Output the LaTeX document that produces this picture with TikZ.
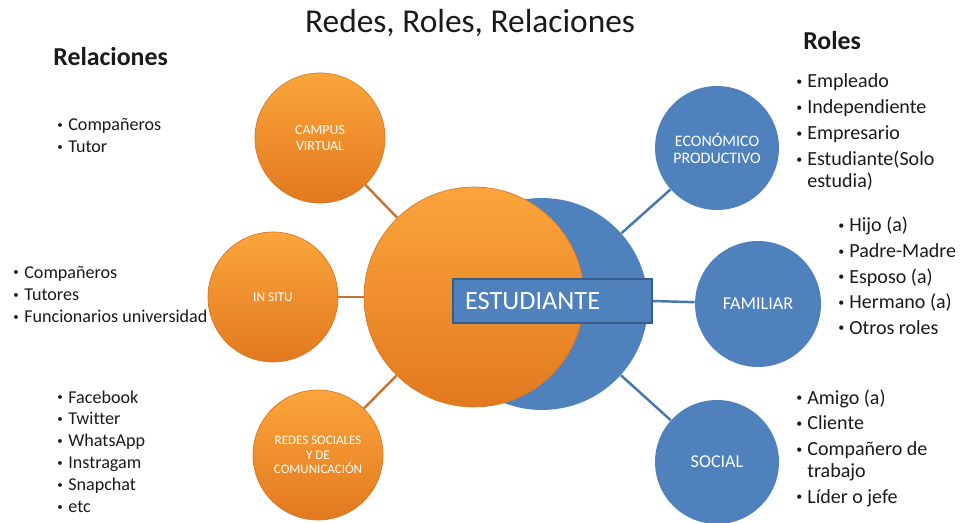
\documentclass[tikz,border=0pt]{standalone}
\usepackage{fontspec}
\setmainfont{Carlito}[Ligatures=NoCommon]
\usetikzlibrary{positioning}
\definecolor{naranjaclaro}{HTML}{FBA53B}
\definecolor{naranjaoscuro}{HTML}{E2791F}
\definecolor{naranjaborde}{HTML}{D9782A}
\definecolor{naranjalinea}{HTML}{C87533}
\definecolor{azul}{HTML}{4F81BD}
\definecolor{azulborde}{HTML}{385D8A}
\definecolor{azullinea}{HTML}{4677B0}
\definecolor{texto}{HTML}{1A1A1A}
\newcommand{\punto}{\makebox[0.22cm][l]{\raisebox{0.12em}{\scalebox{0.6}{\textbullet}}}}
\newcommand{\sangria}{\hspace*{0.22cm}}

\begin{document}
\begin{tikzpicture}[
		x=0.02cm, y=-0.02cm, % 1 unidad = 1 pixel de la imagen
		% --- Estilos ---
		circ_naranja/.style={
			circle,
			top color=naranjaclaro,
			bottom color=naranjaoscuro,
			draw=naranjaborde,
			text=white,
			align=center,
			inner sep=0pt
		},
		circ_azul/.style={
			circle,
			fill=azul,
			text=white,
			align=center,
			inner sep=0pt
		},
		linea_naranja/.style={draw=naranjalinea, line width=1.4pt},
		linea_azul/.style={draw=azullinea, line width=1.4pt},
		lista/.style={
			anchor=base west,
			inner sep=0pt,
			text=texto
		},
		titulo/.style={
			anchor=base west,
			inner sep=0pt,
			text=texto,
			font=\fontsize{14.7}{17}\selectfont\bfseries
		}
		]
		\useasboundingbox (0,0) rectangle (966,523);
		
		% 1. Titulo y encabezados
		\node[anchor=base, inner sep=0pt, text=texto, font=\fontsize{19}{22}\selectfont] (titulo) at (470,33) {Redes, Roles, Relaciones};
		\node[titulo] (relaciones) at (53,66) {Relaciones};
		\node[titulo] (roles) at (803,50) {Roles};
		
		% 2. Circulo central: azul detras, naranja delante
		\node[circ_azul, minimum size=4.24cm] (fondo_azul) at (542,304) {};
		\node[circ_naranja, minimum size=4.4cm] (nucleo) at (474,297) {};
		\node[draw=azulborde, line width=0.85pt, fill=azul, text=white,
			minimum height=0.88cm, text width=3.5cm, inner xsep=0.24cm,
			align=left, font=\fontsize{15}{17}\selectfont] (estudiante) at (552.5,301) {ESTUDIANTE};
		
		% 3. Circulos de relaciones (izquierda)
		\node[circ_naranja, minimum size=2.6cm, font=\fontsize{7.9}{8.6}\selectfont] (campus) at (320,138) {CAMPUS\\VIRTUAL};
		\node[circ_naranja, minimum size=2.6cm, font=\fontsize{7.6}{8.6}\selectfont] (insitu) at (273,297) {IN SITU};
		\node[circ_naranja, minimum size=2.6cm, font=\fontsize{7.4}{8.2}\selectfont] (redes) at (318,455) {REDES SOCIALES\\Y DE\\COMUNICACIÓN};
		
		% 4. Circulos de roles (derecha)
		\node[circ_azul, minimum size=2.48cm, font=\fontsize{9.1}{9.7}\selectfont] (economico) at (717,148) {ECONÓMICO\\PRODUCTIVO};
		\node[circ_azul, minimum size=2.52cm, font=\fontsize{10.3}{12}\selectfont] (familiar) at (758,304) {FAMILIAR};
		\node[circ_azul, minimum size=2.48cm, font=\fontsize{10.3}{12}\selectfont] (social) at (717,462) {SOCIAL};
		
		% 5. Conectores
		\draw[linea_naranja] (campus) -- (nucleo);
		\draw[linea_naranja] (insitu) -- (nucleo);
		\draw[linea_naranja] (redes) -- (nucleo);
		\draw[linea_azul] (economico) -- (fondo_azul);
		\draw[linea_azul] (estudiante.east) -- (familiar);
		\draw[linea_azul] (social) -- (fondo_azul);
		
		% 6. Listas de relaciones
		\node[lista, font=\fontsize{10.3}{12.5}\selectfont] (lista_campus) at (57,131) {%
			\begin{tabular}[t]{@{}l@{}}
				\punto Compañeros\\
				\punto Tutor
		\end{tabular}};
		\node[lista, font=\fontsize{10.3}{12.75}\selectfont] (lista_insitu) at (13,278) {%
			\begin{tabular}[t]{@{}l@{}}
				\punto Compañeros\\
				\punto Tutores\\
				\punto Funcionarios universidad
		\end{tabular}};
		\node[lista, font=\fontsize{10.3}{12.5}\selectfont] (lista_redes) at (57,403) {%
			\begin{tabular}[t]{@{}l@{}}
				\punto Facebook\\
				\punto Twitter\\
				\punto WhatsApp\\
				\punto Instragam\\
				\punto Snapchat\\
				\punto etc
		\end{tabular}};
		
		% 7. Listas de roles
		\node[lista, font=\fontsize{11.4}{12.25}\selectfont] (lista_economico) at (796,88) {%
			\begin{tabular}[t]{@{}l@{}}
				\punto Empleado\\[2.5pt]
				\punto Independiente\\[2.5pt]
				\punto Empresario\\[2.5pt]
				\punto Estudiante(Solo\\
				\sangria estudia)
		\end{tabular}};
		\node[lista, font=\fontsize{11.4}{12.25}\selectfont] (lista_familiar) at (838,232) {%
			\begin{tabular}[t]{@{}l@{}}
				\punto Hijo (a)\\[2.3pt]
				\punto Padre-Madre\\[2.3pt]
				\punto Esposo (a)\\[2.3pt]
				\punto Hermano (a)\\[2.3pt]
				\punto Otros roles
		\end{tabular}};
		\node[lista, font=\fontsize{11.4}{12.25}\selectfont] (lista_social) at (796,404) {%
			\begin{tabular}[t]{@{}l@{}}
				\punto Amigo (a)\\[2.5pt]
				\punto Cliente\\[2.5pt]
				\punto Compañero de\\
				\sangria trabajo\\[2.5pt]
				\punto Líder o jefe
		\end{tabular}};
		
	\end{tikzpicture}
\end{document}
